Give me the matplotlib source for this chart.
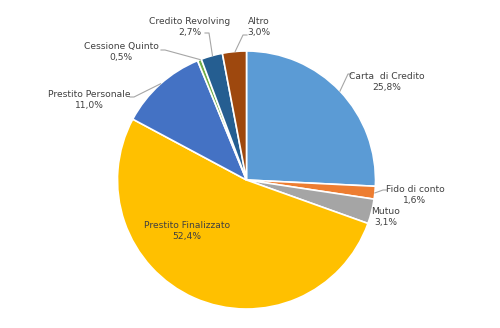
import numpy as np
import matplotlib
matplotlib.use("Agg")
import matplotlib.pyplot as plt

# quote per tipologia di finanziamento (%)
categorie = ["Carta  di Credito", "Fido di conto", "Mutuo", "Prestito Finalizzato",
             "Prestito Personale", "Cessione Quinto", "Credito Revolving", "Altro"]
quote = [25.8, 1.6, 3.1, 52.4, 11.0, 0.5, 2.7, 3.0]
colori = ["#5B9BD5", "#ED7D31", "#A5A5A5", "#FFC000",
          "#4472C4", "#70AD47", "#255E91", "#9E480E"]

W, H = 500, 328
cx, cy, r = 246.5, H - 180, 129

# posizione etichette (pixel, y dall'alto) e inizio linea guida (None = senza linea)
pos_etichette = [(387, 82), (415, 195), (386, 217), (187, 231),
                 (89, 100), (121, 52), (190, 27), (259, 27)]
inizio_linea = [(352, 74), (387, 190), None, None,
                (130, 97), (161, 50), (205, 33), (247, 35)]

fig = plt.figure(figsize=(W / 100, H / 100), dpi=100)
ax = fig.add_axes([0, 0, 1, 1])

wedges, _ = ax.pie(quote, colors=colori, startangle=90, counterclock=False,
                   center=(cx, cy), radius=r,
                   wedgeprops=dict(edgecolor="white", linewidth=1.2))
ax.set_xlim(0, W)
ax.set_ylim(0, H)
ax.axis("off")

cum = np.cumsum([0] + quote[:-1])
for i, (nome, q) in enumerate(zip(categorie, quote)):
    tx, ty = pos_etichette[i]
    testo = f"{nome}\n{q:.1f}%".replace(".", ",")
    ax.text(tx, H - ty, testo, ha="center", va="center", fontsize=6.6,
            color="#404040", linespacing=1.25, family="DejaVu Sans")
    if inizio_linea[i] is None:
        continue
    # punto sul bordo a metà spicchio
    ang = np.deg2rad(90 - (cum[i] + q / 2) * 3.6)
    ex, ey = cx + r * np.cos(ang), cy + r * np.sin(ang)
    sx, sy = inizio_linea[i]
    sy = H - sy
    gomito = sx + 4 * np.sign(ex - sx)
    ax.plot([sx, gomito, ex], [sy, sy, ey], color="#A6A6A6", lw=0.8)

fig.savefig("out.png", dpi=100)
